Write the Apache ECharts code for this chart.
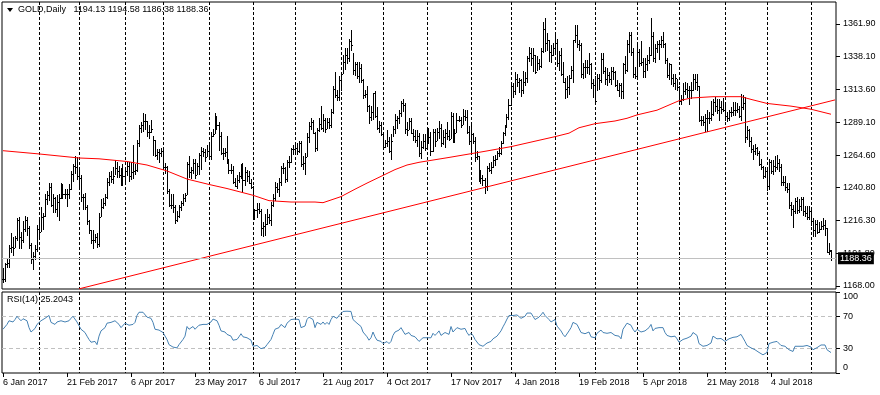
<!DOCTYPE html>
<html>
<head>
<meta charset="utf-8">
<script src="https://cdn.jsdelivr.net/npm/echarts@6/dist/echarts.min.js"></script>
<style>html,body{margin:0;padding:0;background:#fff}#c{width:880px;height:395px}</style>
</head>
<body>
<div id="c"></div>
<script>
// ---- data (GOLD, Daily; first bar 6 Jan 2017, last bar 15 Aug 2018) ----
const holidays = ['2017-04-14','2017-12-25','2018-01-01','2018-03-30'];
const firstDate = '2017-01-06';
const slotCount = 417; // 415 bars + 2 empty slots on the right
const highs = [
1181,1185,1188,1198,1207,1204,1205,1218,1219,1208,
1216,1220,1219,1212,1200,1193,1198,1213,1217,1226,
1222,1236,1238,1244,1244,1236,1234,1235,1236,1244,
1243,1240,1240,1243,1253,1258,1264,1263,1255,1250,
1236,1237,1228,1217,1209,1209,1206,1207,1222,1232,
1233,1236,1248,1252,1253,1256,1261,1260,1257,1255,
1258,1256,1260,1260,1260,1272,1258,1276,1287,1289,
1296,1295,1290,1287,1291,1279,1276,1269,1269,1270,
1269,1259,1257,1240,1236,1236,1228,1223,1228,1231,
1236,1237,1260,1264,1256,1262,1262,1259,1266,1271,
1270,1269,1272,1272,1282,1284,1296,1294,1289,1282,
1270,1270,1279,1262,1258,1257,1248,1250,1252,1258,
1259,1256,1254,1253,1247,1242,1225,1229,1229,1225,
1215,1221,1225,1221,1230,1236,1245,1244,1248,1257,
1259,1256,1261,1264,1270,1272,1274,1274,1275,1275,
1264,1266,1281,1289,1292,1291,1282,1285,1292,1301,
1295,1292,1292,1292,1299,1316,1326,1313,1323,1326,
1339,1344,1344,1351,1357,1340,1334,1334,1334,1332,
1321,1313,1316,1302,1301,1311,1312,1300,1290,1289,
1282,1276,1283,1278,1280,1286,1295,1294,1298,1305,
1306,1303,1289,1292,1292,1284,1283,1283,1281,1275,
1280,1280,1283,1285,1282,1284,1284,1285,1290,1288,
1283,1284,1289,1283,1297,1296,1284,1296,1294,1293,
1299,1298,1298,1286,1287,1281,1278,1268,1264,1254,
1250,1248,1257,1259,1260,1264,1265,1268,1271,1275,
1282,1287,1295,1306,1318,1318,1326,1325,1322,1321,
1327,1326,1338,1345,1344,1344,1339,1338,1336,1344,
1363,1366,1355,1350,1346,1348,1355,1351,1342,1344,
1334,1322,1323,1324,1331,1350,1361,1361,1350,1348,
1333,1335,1335,1340,1333,1321,1323,1325,1325,1340,
1340,1330,1329,1326,1330,1330,1327,1320,1318,1318,
1333,1338,1350,1356,1356,1344,1330,1346,1343,1349,
1337,1337,1339,1345,1366,1356,1347,1349,1350,1353,
1356,1348,1337,1333,1332,1325,1325,1321,1316,1309,
1318,1319,1318,1316,1319,1325,1325,1325,1316,1294,
1294,1295,1298,1297,1305,1306,1308,1306,1306,1305,
1307,1303,1297,1298,1300,1304,1304,1303,1301,1310,
1309,1308,1286,1284,1278,1272,1273,1271,1268,1262,
1257,1256,1254,1262,1261,1261,1264,1265,1262,1258,
1249,1249,1244,1244,1230,1228,1233,1234,1232,1234,
1234,1227,1227,1227,1226,1218,1217,1217,1215,1216,
1218,1217,1211,1200,1194.58];
const lows = [
1170,1171,1181,1181,1192,1190,1196,1201,1195,1195,
1200,1208,1205,1195,1184,1180,1187,1193,1204,1208,
1209,1219,1228,1231,1226,1222,1222,1219,1216,1232,
1232,1232,1226,1232,1239,1245,1251,1246,1241,1230,
1224,1224,1213,1206,1199,1195,1200,1196,1197,1219,
1225,1227,1232,1242,1244,1243,1250,1248,1248,1242,
1242,1243,1249,1245,1246,1247,1250,1252,1271,1281,
1282,1283,1278,1277,1281,1264,1263,1261,1259,1263,
1254,1251,1236,1226,1225,1222,1214,1215,1218,1223,
1227,1230,1235,1248,1247,1251,1247,1250,1250,1254,
1263,1260,1263,1262,1261,1278,1280,1283,1268,1265,
1261,1263,1258,1251,1251,1243,1241,1240,1244,1247,
1237,1242,1245,1243,1240,1218,1217,1218,1221,1205,
1204,1205,1213,1214,1212,1226,1231,1237,1234,1242,
1251,1244,1245,1255,1259,1265,1266,1265,1266,1256,
1254,1250,1263,1274,1283,1280,1267,1268,1282,1283,
1282,1281,1284,1284,1285,1295,1307,1305,1305,1312,
1325,1328,1332,1334,1342,1324,1323,1321,1318,1318,
1306,1307,1297,1288,1290,1291,1292,1283,1281,1279,
1270,1270,1271,1266,1261,1278,1280,1284,1288,1293,
1297,1280,1279,1283,1280,1275,1274,1271,1263,1262,
1269,1268,1269,1273,1264,1267,1271,1275,1277,1271,
1272,1270,1276,1275,1277,1274,1274,1281,1289,1285,
1287,1290,1280,1272,1267,1273,1260,1261,1245,1243,
1242,1236,1238,1252,1251,1255,1257,1261,1263,1265,
1273,1279,1285,1291,1301,1307,1309,1315,1311,1308,
1310,1316,1318,1334,1331,1326,1325,1327,1328,1329,
1340,1341,1342,1334,1333,1338,1339,1330,1327,1323,
1318,1306,1307,1309,1321,1318,1348,1344,1342,1322,
1321,1322,1325,1324,1314,1307,1303,1312,1313,1318,
1325,1317,1316,1318,1317,1320,1315,1312,1308,1306,
1306,1325,1326,1340,1338,1322,1321,1322,1330,1331,
1322,1322,1327,1332,1338,1334,1333,1340,1335,1344,
1344,1332,1322,1320,1317,1315,1313,1312,1302,1302,
1305,1309,1307,1302,1306,1312,1313,1312,1289,1286,
1286,1282,1282,1288,1290,1294,1297,1295,1290,1295,
1297,1290,1289,1290,1293,1294,1294,1296,1292,1290,
1298,1274,1276,1271,1266,1261,1265,1264,1257,1254,
1247,1248,1238,1239,1251,1250,1252,1254,1252,1242,
1242,1238,1237,1225,1220,1211,1221,1221,1222,1223,
1220,1219,1217,1217,1212,1204,1204,1206,1207,1209,
1209,1205,1192,1191,1186.38];
const closes = [
1173,1184,1185,1196,1197,1196,1203,1217,1204,1202,
1210,1217,1211,1198,1188,1190,1195,1210,1208,1219,
1220,1232,1235,1241,1228,1233,1225,1230,1233,1240,
1236,1236,1236,1240,1251,1257,1256,1249,1248,1234,
1234,1226,1216,1209,1202,1202,1204,1199,1219,1226,
1229,1234,1245,1249,1247,1249,1255,1253,1250,1245,
1249,1253,1257,1249,1252,1253,1254,1274,1285,1287,
1290,1290,1282,1282,1284,1276,1265,1267,1266,1268,
1256,1256,1238,1228,1228,1226,1217,1220,1226,1229,
1233,1235,1258,1252,1254,1259,1250,1257,1265,1268,
1267,1263,1268,1264,1279,1280,1293,1287,1279,1266,
1266,1267,1260,1254,1254,1245,1242,1246,1249,1256,
1246,1252,1249,1244,1241,1220,1224,1225,1223,1211,
1212,1214,1219,1217,1228,1233,1241,1240,1245,1255,
1255,1247,1260,1260,1269,1269,1270,1268,1274,1258,
1259,1263,1278,1286,1289,1281,1270,1283,1288,1285,
1291,1284,1289,1287,1297,1314,1309,1308,1320,1325,
1334,1339,1337,1349,1346,1328,1332,1323,1329,1320,
1309,1310,1301,1293,1297,1311,1294,1285,1287,1280,
1271,1274,1275,1268,1275,1284,1291,1292,1296,1303,
1302,1284,1283,1290,1281,1279,1276,1279,1266,1271,
1275,1270,1276,1278,1268,1282,1275,1282,1285,1274,
1278,1281,1279,1277,1294,1276,1281,1291,1291,1287,
1294,1293,1282,1275,1280,1275,1263,1264,1250,1248,
1246,1242,1255,1254,1256,1261,1262,1266,1266,1274,
1281,1286,1293,1302,1316,1312,1321,1319,1320,1313,
1319,1322,1337,1340,1337,1339,1326,1333,1331,1342,
1358,1348,1350,1341,1339,1344,1348,1333,1339,1325,
1319,1314,1315,1322,1328,1350,1354,1347,1346,1325,
1330,1330,1330,1332,1318,1317,1305,1322,1320,1336,
1327,1321,1324,1321,1327,1326,1317,1313,1317,1312,
1332,1328,1347,1354,1341,1325,1323,1341,1333,1334,
1327,1332,1335,1339,1353,1337,1344,1347,1347,1350,
1347,1335,1324,1332,1322,1318,1322,1315,1305,1306,
1312,1314,1313,1313,1313,1321,1319,1316,1291,1291,
1289,1292,1292,1292,1295,1304,1301,1298,1300,1299,
1298,1294,1292,1297,1297,1298,1298,1299,1294,1300,
1303,1278,1283,1275,1269,1268,1270,1266,1258,1256,
1249,1253,1242,1260,1253,1257,1256,1259,1256,1245,
1245,1241,1240,1228,1225,1223,1231,1224,1227,1232,
1223,1222,1219,1223,1216,1209,1214,1208,1210,1212,
1213,1211,1193,1194,1188.36];
const lastBar = [1194.13, 1194.58, 1186.38, 1188.36]; // O H L C of the last bar
const rsi = [
54,56,60,64.5,66,63,66,70,67,64.5,
67,69,64.5,56,50.6,52,55,60,60,64.5,
64.5,67.5,69,71,62.5,64.5,60,63,64.5,64.5,
62.5,63,62.5,64.5,67.5,70,69,63,61.5,54,
54,50,45.5,41.4,38,37,39,35,45.5,52,
54,56,61.5,63,62.5,63,64.5,63,60,56,
58,61.5,63,59,60,60,62.5,71,75,74,
75,73,69,67.5,67.5,62.5,54,54,53,54,
50,50,41.4,35,34,32,29.6,31,35,37,
41.4,45.5,57.4,54,56,57.4,54,56,59,60,
60,58,60,59,63,66.6,69,64.5,59,52,
50.6,50.6,47.7,46.4,45.5,40.5,39,41.4,44.7,48.5,
44.7,45.5,43.5,42.2,40.5,33,34,34,33,30,
30.4,31.7,35,35,41.4,47.7,54,53,56,60,
60,56,61.5,62.5,66,66,66.6,65.4,66,56,
56,58,66,69,71,66,56,62.5,63,60,
63,60,62.5,60,66,70,69,67.5,71,73,
76,77,76.3,78,76,66,66,61.5,62.5,57.4,
50.6,50,44.7,40.5,43.5,50.6,44.7,40.5,41.4,39,
36.3,38,38.8,36.3,39,46.4,50.6,50.6,53,56,
55,47.7,47.7,50,46.4,45.5,44.7,44.7,39,41.4,
43.5,41.4,43.5,45.5,43.5,49,46.4,49,52,46.4,
47.7,50,49,47.7,57.4,50.6,52,56,56,54,
56,55,50,46.4,49,46.4,41.4,41.4,35,34,
33,31,37,37,39,42.2,43.5,45.5,46.4,52,
57,61.5,66.6,71,73,71,73,71.7,72.5,67.5,
69,70,74,75,74,73,66,67.5,69,71.7,
75,71,69,66,63,64.5,66,58,56,52,
47.7,44.7,46.4,52,56,62.5,63,60,58,50,
50,48.5,50,50.6,44.7,44.7,43.5,49,50,53,
50,47.7,49,48,50,49,46.4,44.7,45.5,42.2,
54,55,61.5,63,59,54,50.6,54,52,50.6,
50,52,54,56,60,52,55,56,56,57.4,
56,50,46.4,47.7,44.7,43.5,45.5,42.2,38,38,
41.4,43.5,43,43.5,45.5,50,48.5,46.4,36.3,34.6,
33,34,34,34.6,37,45.5,43.5,42.2,41.4,42.6,
43,39,40.5,42.2,43,44,44.7,44.7,43,47.7,
50,39,34,32,31,29.6,28.7,27.5,25.4,24.5,
22.4,24.5,25.4,36.3,37,38,38,39,37,34,
33,33,32,28.7,27.9,26.6,33,31,33,35,
33,33,34,35,32,28.7,30.4,31.3,33,34.6,
36.3,34.6,28.7,27.9,25.2043];
// moving average (red) read at these bar indices
const maIdx = [0,18,38,48,62,72,82,92,103,112,125,133,144,156,160,164,169,176,182,189,196,202,208,223,240,254,265,276,283,288,296,306,312,317,327,338,344,355,369,374,382,394,404,414];
const maVal = [1268,1265.6,1262.6,1262,1260,1257.4,1253,1247,1243,1240,1235,1231,1230,1230,1229.5,1231.5,1234,1239.5,1244,1249,1254,1257.4,1259.4,1263,1267.3,1271,1274.7,1278.4,1281,1285,1288,1290,1292,1294.5,1298,1305,1307,1308,1308,1306,1303,1301,1298.7,1295];
// trend line end points (bar index, price)
const trendIdx = [38, 416];
const trendVal = [1165.7, 1305.6];
const priceTicks = [1168.00,1191.80,1216.30,1240.80,1264.60,1289.10,1313.60,1338.10,1361.90];
const rsiTicks = [0,30,70,100];
const rsiLevels = [30,70];
const labelEvery = 32;

// ---- build ----
function buildDates(start, n){
  const out=[]; const d=new Date(start+'T00:00:00Z');
  while(out.length<n){
    const s=d.toISOString().slice(0,10); const w=d.getUTCDay();
    if(w!==0&&w!==6&&holidays.indexOf(s)<0) out.push(s);
    d.setUTCDate(d.getUTCDate()+1);
  }
  return out;
}
const dates = buildDates(firstDate, slotCount);
const MONTHS=['Jan','Feb','Mar','Apr','May','Jun','Jul','Aug','Sep','Oct','Nov','Dec'];
function fmtDate(s){ const p=s.split('-'); return (+p[2])+' '+MONTHS[+p[1]-1]+' '+p[0]; }
const monthStarts=[];
for(let i=1;i<closes.length;i++){ if(dates[i].slice(0,7)!==dates[i-1].slice(0,7)) monthStarts.push(i); }
const bars = closes.map((c,i)=>[i, i===closes.length-1 ? lastBar[0] : (i>0?closes[i-1]:c), highs[i], lows[i], c]);
const FONT='"Liberation Sans", Arial, sans-serif';
const showLabel = (idx)=> idx % labelEvery === 0 && idx < closes.length-20;

function vLine(params, api){
  const cs=params.coordSys;
  const x=Math.floor(api.coord([api.value(0), api.value(1)])[0])+0.5;
  return {type:'line', shape:{x1:x,y1:cs.y,x2:x,y2:cs.y+cs.height}, style:{stroke:'#000',lineWidth:1,lineDash:[3,2]}, silent:true};
}
function hLine(params, api){
  const cs=params.coordSys;
  const y=Math.floor(api.coord([0, api.value(1)])[1])+0.5;
  return {type:'line', shape:{x1:cs.x,y1:y,x2:cs.x+cs.width,y2:y}, style:{stroke:'#c0c0c0',lineWidth:1,lineDash:[4,3]}, silent:true};
}
function ohlc(params, api){
  const i=api.value(0);
  const po=api.coord([i,api.value(1)]), ph=api.coord([i,api.value(2)]), pl=api.coord([i,api.value(3)]), pc=api.coord([i,api.value(4)]);
  const x=Math.floor(ph[0]);
  const yh=Math.round(ph[1]), yl=Math.round(pl[1]);
  return {type:'group', children:[
    {type:'rect', shape:{x:x,y:yh,width:1,height:Math.max(1,yl-yh)}, style:{fill:'#000'}},
    {type:'rect', shape:{x:x-1,y:Math.round(po[1]),width:1,height:1}, style:{fill:'#000'}},
    {type:'rect', shape:{x:x+1,y:Math.round(pc[1]),width:1,height:1}, style:{fill:'#000'}}
  ]};
}

const chart = echarts.init(document.getElementById('c'), null, {renderer:'canvas', width:880, height:395});
chart.setOption({
  animation:false,
  backgroundColor:'#fff',
  grid:[
    {left:2, top:2, width:834, height:287, show:true, borderColor:'#000', borderWidth:1},
    {left:2, top:292, width:834, height:81, show:true, borderColor:'#000', borderWidth:1}
  ],
  xAxis:[
    {type:'category', gridIndex:0, data:dates, boundaryGap:true, show:false},
    {type:'category', gridIndex:1, data:dates, boundaryGap:true,
      axisLine:{show:false},
      axisTick:{show:true, interval:(i)=>showLabel(i), alignWithLabel:true, length:4, lineStyle:{color:'#000'}},
      axisLabel:{interval:(i)=>showLabel(i), formatter:fmtDate, align:'left', margin:5, color:'#000', fontSize:9, fontFamily:FONT},
      splitLine:{show:false}}
  ],
  yAxis:[
    {type:'value', gridIndex:0, position:'right', min:1165.6, max:1378.1,
      axisLine:{show:false},
      axisTick:{show:true, customValues:priceTicks, length:4, lineStyle:{color:'#000'}},
      axisLabel:{customValues:priceTicks, formatter:(v)=>v.toFixed(2), margin:7, color:'#000', fontSize:9, fontFamily:FONT},
      splitLine:{show:false}},
    {type:'value', gridIndex:1, position:'right', min:0, max:100,
      axisLine:{show:false},
      axisTick:{show:true, customValues:rsiTicks, length:4, lineStyle:{color:'#000'}},
      axisLabel:{customValues:rsiTicks, margin:7, color:'#000', fontSize:9, fontFamily:FONT,
        formatter:(v)=> v===100 ? '{t|100}' : (v===0 ? '{b|0}' : String(v)),
        rich:{t:{padding:[10,0,0,0],fontSize:9,fontFamily:FONT,color:'#000'}, b:{padding:[0,0,11,0],fontSize:9,fontFamily:FONT,color:'#000'}}},
      splitLine:{show:false}}
  ],
  graphic:[
    {type:'polygon', shape:{points:[[7,8],[13,8],[10,12]]}, style:{fill:'#000'}, z:100},
    {type:'text', left:18, top:5, z:100, style:{text:'GOLD,Daily   '+lastBar.map(v=>v.toFixed(2)).join(' '), fill:'#000', fontSize:9, fontFamily:FONT}},
    {type:'text', left:7, top:295, z:100, style:{text:'RSI(14) '+rsi[rsi.length-1].toFixed(4), fill:'#000', fontSize:9, fontFamily:FONT}}
  ],
  series:[
    {type:'custom', name:'grid0', xAxisIndex:0, yAxisIndex:0, data:monthStarts.map(i=>[i,1200]), renderItem:vLine, z:1, silent:true},
    {type:'custom', name:'bars', xAxisIndex:0, yAxisIndex:0, data:bars, renderItem:ohlc, encode:{x:0,y:[1,2,3,4]}, z:2, silent:true, clip:true},
    {type:'line', name:'MA', xAxisIndex:0, yAxisIndex:0, data:maIdx.map((i,k)=>[i,maVal[k]]), showSymbol:false, lineStyle:{color:'#ff0000', width:1}, itemStyle:{color:'#ff0000'}, z:3, silent:true,
      markLine:{silent:true, symbol:['none','none'], animation:false, data:[{yAxis:lastBar[3]}],
        lineStyle:{color:'#c0c0c0', width:1, type:'solid'},
        label:{show:true, position:'end', distance:2, formatter:()=>lastBar[3].toFixed(2), backgroundColor:'#000', color:'#fff', padding:[2,2,1,2], fontSize:9, fontFamily:FONT}}},
    {type:'line', name:'trend', xAxisIndex:0, yAxisIndex:0, data:trendIdx.map((i,k)=>[i,trendVal[k]]), showSymbol:false, lineStyle:{color:'#ff0000', width:1}, z:3, silent:true, clip:true},
    {type:'custom', name:'grid1', xAxisIndex:1, yAxisIndex:1, data:monthStarts.map(i=>[i,50]), renderItem:vLine, z:1, silent:true},
    {type:'custom', name:'levels', xAxisIndex:1, yAxisIndex:1, data:rsiLevels.map(v=>[0,v]), renderItem:hLine, z:1, silent:true},
    {type:'line', name:'RSI', xAxisIndex:1, yAxisIndex:1, data:rsi, showSymbol:false, lineStyle:{color:'#4682b4', width:1}, z:3, silent:true}
  ]
});
</script>
</body>
</html>
